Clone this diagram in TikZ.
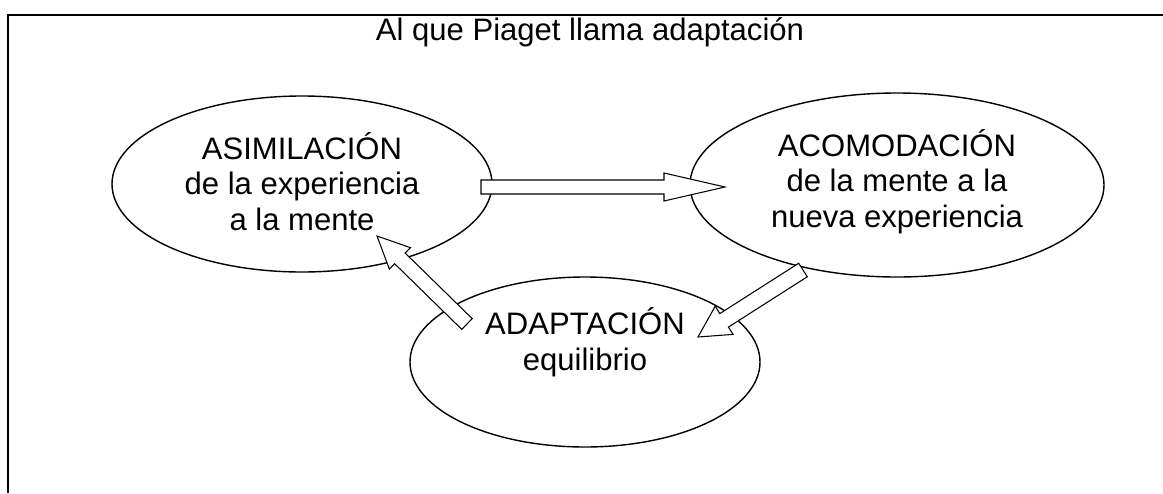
\documentclass[tikz,border=0pt]{standalone}
\usepackage{fontspec}
\setmainfont{Liberation Sans}
\usetikzlibrary{calc,shapes.geometric}

\tikzset{
    bubble/.style={draw, ellipse, line width=1.2pt, inner sep=0pt},
    bubbletext/.style={align=center, anchor=base, font=\fontsize{26.5}{30}\selectfont},
    arrowline/.style={draw, fill=white, line width=0.9pt, line join=miter}
}

\newcommand{\bigarrow}[5]{%
    \coordinate (h) at ($(#2)!#4!(#1)$);
    \draw[arrowline] ($(#1)!#3!90:(#2)$) -- ($(h)!#3!90:(#2)$) -- ($(h)!#5!90:(#2)$)
        -- (#2) -- ($(h)!#5!-90:(#2)$) -- ($(h)!#3!-90:(#2)$) -- ($(#1)!#3!-90:(#2)$) -- cycle;
}

\begin{document}
\begin{tikzpicture}[x=0.03cm,y=-0.03cm]
    \useasboundingbox (0,0) rectangle (1163,493);
    \draw[line width=1.7pt] (8,493) -- (8,15) -- (1163,15);
    \node[bubble, minimum width=11.4cm, minimum height=5.28cm] (asim) at (302,184) {};
    \node[bubble, minimum width=12.42cm, minimum height=5.52cm] (acom) at (897,185) {};
    \node[bubble, minimum width=10.5cm, minimum height=5.1cm] (adap) at (585,362) {};
    \node[bubbletext] (title) at (590,40) {Al que Piaget llama adaptación};
    \node[bubbletext] (asimtext) at (302,230) {ASIMILACIÓN\\de la experiencia\\a la mente};
    \node[bubbletext] (acomtext) at (897,227) {ACOMODACIÓN\\de la mente a la\\nueva experiencia};
    \node[bubbletext] (adaptext) at (585,370) {ADAPTACIÓN\\equilibrio};
    \coordinate (asim-out) at ($(asim)+(179,3)$);
    \coordinate (asim-in) at ($(asim)+(75,52)$);
    \coordinate (acom-in) at ($(acom)+(-172,2)$);
    \coordinate (acom-out) at ($(acom)+(-94,85)$);
    \coordinate (adap-in) at ($(adap)+(113,-25)$);
    \coordinate (adap-out) at ($(adap)+(-118,-38)$);
    \bigarrow{asim-out}{acom-in}{0.21cm}{1.83cm}{0.42cm}
    \bigarrow{acom-out}{adap-in}{0.24cm}{0.93cm}{0.5cm}
    \bigarrow{adap-out}{asim-in}{0.225cm}{0.96cm}{0.45cm}
\end{tikzpicture}
\end{document}
